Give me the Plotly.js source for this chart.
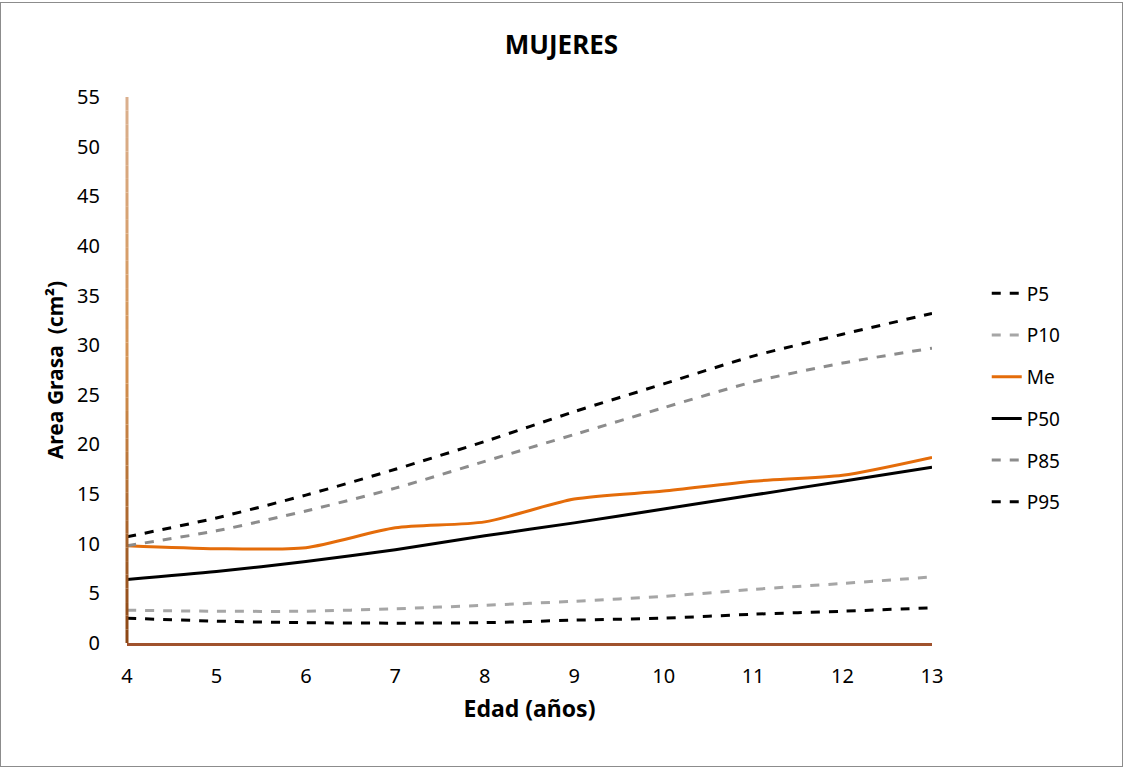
<!DOCTYPE html>
<html>
<head>
<meta charset="utf-8">
<script src="https://cdn.plot.ly/plotly-3.0.1.min.js"></script>
<style>
  html, body { margin: 0; padding: 0; background: #fff; }
  #chart { width: 1121px; height: 763px; border: 1px solid #8c8c8c; margin-top: 2px; }
</style>
</head>
<body>
<div id="chart"></div>
<script>
// ---- Data ----
const edad = [4, 5, 6, 7, 8, 9, 10, 11, 12, 13];
const p5  = [2.5, 2.2, 2.05, 2.0, 2.05, 2.3, 2.5, 2.9, 3.2, 3.55];
const p10 = [3.3, 3.2, 3.2, 3.45, 3.8, 4.2, 4.7, 5.4, 6.0, 6.65];
const me  = [9.8, 9.5, 9.6, 11.6, 12.2, 14.5, 15.3, 16.3, 16.9, 18.7];
const p50 = [6.4, 7.2, 8.2, 9.4, 10.8, 12.1, 13.5, 14.9, 16.3, 17.7];
const p85 = [9.8, 11.3, 13.3, 15.6, 18.3, 21.0, 23.7, 26.3, 28.2, 29.7];
const p95 = [10.7, 12.6, 14.9, 17.5, 20.3, 23.3, 26.1, 28.9, 31.1, 33.2];
const seriesNames = ["P5", "P10", "Me", "P50", "P85", "P95"];
const yTicks = [0, 5, 10, 15, 20, 25, 30, 35, 40, 45, 50, 55];

const FONT = "Noto Sans, Open Sans, Liberation Sans, sans-serif";

function mk(name, y, color, dash, width) {
  return {
    x: edad, y: y, name: name, type: "scatter", mode: "lines",
    legendgroup: name,
    line: { color: color, dash: dash, width: width, shape: "spline", smoothing: 0.7 },
    hoverinfo: "x+y+name"
  };
}

const traces = [
  mk(seriesNames[0], p5,  "#000000", "dash", 3),
  mk(seriesNames[1], p10, "#a6a6a6", "dash", 3),
  mk(seriesNames[2], me,  "#e46c0a", "solid", 3),
  mk(seriesNames[3], p50, "#000000", "solid", 3),
  mk(seriesNames[4], p85, "#8c8c8c", "dash", 3),
  mk(seriesNames[5], p95, "#000000", "dash", 3)
];

// gradient-coloured y-axis line (brown at bottom to tan at top)
function lerp(a, b, t) { return Math.round(a + (b - a) * t); }
function hex(c) { return [parseInt(c.slice(1,3),16), parseInt(c.slice(3,5),16), parseInt(c.slice(5,7),16)]; }
const stops = [hex("#8b4513"), hex("#d4914f"), hex("#dab08f")];
const shapes = [];
const N = 40;
const yMax = yTicks[yTicks.length - 1];
for (let i = 0; i < N; i++) {
  const t = (i + 0.5) / N;
  let c;
  if (t < 0.5) { const u = t / 0.5; c = stops[0].map((v, k) => lerp(v, stops[1][k], u)); }
  else { const u = (t - 0.5) / 0.5; c = stops[1].map((v, k) => lerp(v, stops[2][k], u)); }
  shapes.push({
    type: "line", xref: "paper", yref: "y",
    x0: 0, x1: 0, y0: yMax * i / N, y1: yMax * (i + 1) / N,
    line: { color: "rgb(" + c.join(",") + ")", width: 3 }
  });
}

const layout = {
  width: 1121, height: 763,
  margin: { l: 126, r: 190, t: 94, b: 123 },
  paper_bgcolor: "#ffffff",
  plot_bgcolor: "#ffffff",
  font: { family: FONT, color: "#000000", size: 18 },
  title: {
    text: "<b>MUJERES</b>",
    font: { family: FONT, size: 26, color: "#000" },
    x: 0.5, xref: "container", xanchor: "center",
    y: 1 - 42 / 763, yref: "container", yanchor: "middle"
  },
  xaxis: {
    range: [4, 13],
    tickvals: edad,
    showgrid: false, zeroline: false,
    showline: true, linecolor: "#a0522d", linewidth: 2.5,
    ticks: "", ticklabelstandoff: 13,
    tickfont: { family: FONT, size: 20, color: "#000" },
    title: { text: "<b>Edad (años)</b>", font: { family: FONT, size: 23, color: "#000" }, standoff: 14 }
  },
  yaxis: {
    range: [0, 55],
    tickvals: yTicks,
    showgrid: false, zeroline: false,
    showline: false,
    ticks: "", ticklabelstandoff: 26,
    tickfont: { family: FONT, size: 20, color: "#000" },
    title: { text: "<b>Area Grasa  (cm²)</b>", font: { family: FONT, size: 21, color: "#000" }, standoff: 7 }
  },
  legend: {
    x: 1.068, xanchor: "left",
    y: 0.675, yanchor: "top",
    font: { family: FONT, size: 19, color: "#000" },
    tracegroupgap: 14,
    bgcolor: "rgba(0,0,0,0)"
  },
  shapes: shapes,
  showlegend: true
};

Plotly.newPlot("chart", traces, layout, { displayModeBar: false, staticPlot: true });
</script>
</body>
</html>
